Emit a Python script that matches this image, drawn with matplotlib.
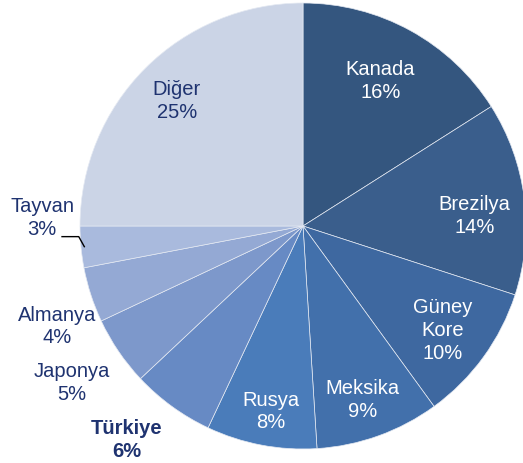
import numpy as np
import matplotlib.pyplot as plt

plt.rcParams['font.family'] = ['Liberation Sans', 'DejaVu Sans']

# data (share of total, %)
countries = ["Kanada", "Brezilya", "Güney\nKore", "Meksika", "Rusya",
             "Türkiye", "Japonya", "Almanya", "Tayvan", "Diğer"]
shares = [16, 14, 10, 9, 8, 6, 5, 4, 3, 25]
colors = ["#34567f", "#3a5e8c", "#3e68a0", "#4270ab", "#4a7cba",
          "#678ac4", "#7d98cb", "#94a9d4", "#a9badd", "#cbd4e6"]

# label placement: distance from centre (in radii), angle offset (deg), inside?
label_dist = [0.74, 0.77, 0.78, 0.82, 0.84, 1.24, 1.25, 1.19, 1.17, 0.80]
label_shift = [0.8, -3.5, -0.5, -0.8, 0.8, -3.7, -0.2, 4.0, -7.4, 0.0]
inside = [True, True, True, True, True, False, False, False, False, True]

fig = plt.figure(figsize=(5.23, 4.64), dpi=100)
R = 223 / 464 * 4.64  # radius in inches
cx, cy = 303 / 100, (464 - 227) / 100
ax = fig.add_axes([(cx - R) / 5.23, (cy - R) / 4.64, 2 * R / 5.23, 2 * R / 4.64])

wedges, _ = ax.pie(shares, colors=colors, startangle=90, counterclock=False,
                   radius=1.0,
                   wedgeprops=dict(edgecolor="#e4e9f2", linewidth=0.5))
ax.set_xlim(-1, 1)
ax.set_ylim(-1, 1)
ax.set_aspect("equal")
ax.axis("off")

for i, w in enumerate(wedges):
    ang = np.deg2rad((w.theta1 + w.theta2) / 2 + label_shift[i])
    x = label_dist[i] * np.cos(ang)
    y = label_dist[i] * np.sin(ang)
    if inside[i]:
        col = "#1f3370" if countries[i] == "Diğer" else "white"
    else:
        col = "#1f3370"
    weight = "bold" if countries[i] == "Türkiye" else "normal"
    ax.text(x, y, f"{countries[i]}\n{shares[i]}%", ha="center", va="center",
            fontsize=14.5, color=col, fontweight=weight, linespacing=1.25,
            clip_on=False)

# leader line for Tayvan
i = countries.index("Tayvan")
w = wedges[i]
a = np.deg2rad((w.theta1 + w.theta2) / 2)
ex, ey = 0.985 * np.cos(a), 0.985 * np.sin(a)
ax.plot([ex, ex - 0.025, ex - 0.10], [ey, ey + 0.045, ey + 0.045],
        color="black", lw=1.0, clip_on=False)

fig.savefig("out.png", dpi=100)
